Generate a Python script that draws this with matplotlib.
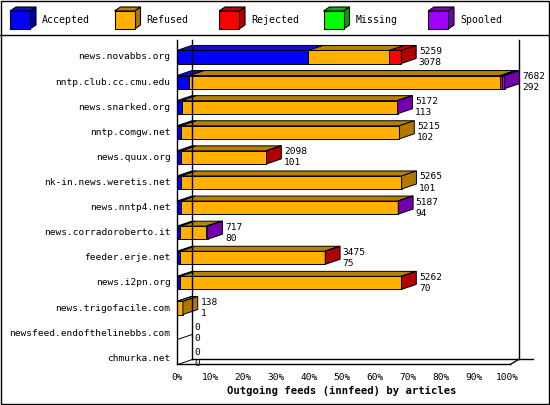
import matplotlib.pyplot as plt
from matplotlib.patches import Polygon, Rectangle

servers = ["news.novabbs.org", "nntp.club.cc.cmu.edu", "news.snarked.org", "nntp.comgw.net",
           "news.quux.org", "nk-in.news.weretis.net", "news.nntp4.net", "news.corradoroberto.it",
           "feeder.erje.net", "news.i2pn.org", "news.trigofacile.com",
           "newsfeed.endofthelinebbs.com", "chmurka.net"]
accepted = [3078, 292, 113, 102, 101, 101, 94, 80, 75, 70, 1, 0, 0]
refused = [1901, 7290, 5049, 5113, 1987, 5164, 5083, 607, 3390, 5182, 137, 0, 0]
rejected = [280, 30, 0, 0, 10, 0, 0, 0, 10, 10, 0, 0, 0]
missing = [0] * 13
spooled = [0, 70, 10, 0, 0, 0, 10, 30, 0, 0, 0, 0, 0]
totals = [5259, 7682, 5172, 5215, 2098, 5265, 5187, 717, 3475, 5262, 138, 0, 0]

names = ["Accepted", "Refused", "Rejected", "Missing", "Spooled"]
front = ["#0000ff", "#ffb000", "#ff0000", "#00ff00", "#a000ff"]
dark = ["#0000a8", "#b07800", "#b00000", "#00a000", "#7000b0"]
topc = ["#1010c8", "#b88000", "#c00000", "#00b000", "#8000c0"]

fig = plt.figure(figsize=(5.5, 4.05), dpi=100)
plt.rcParams['font.family'] = 'DejaVu Sans Mono'
fs = 6.8

# outer frame and legend separator
fig.add_artist(Rectangle((0.002, 0.002), 0.996, 0.996, transform=fig.transFigure,
                         fill=False, lw=1, ec="black"))
fig.add_artist(plt.Line2D([0, 1], [1 - 35 / 405] * 2, transform=fig.transFigure, color="black", lw=1))

# legend
for k, n in enumerate(names):
    x0 = (10 + k * 104.5) / 550
    w, h, d, e = 20 / 550, 18 / 405, 6 / 550, 4 / 405
    y0 = 1 - 29 / 405
    fig.add_artist(Polygon([(x0 + w, y0), (x0 + w + d, y0 + e), (x0 + w + d, y0 + h + e), (x0 + w, y0 + h)],
                           transform=fig.transFigure, fc=dark[k], ec="black", lw=0.8))
    fig.add_artist(Polygon([(x0, y0 + h), (x0 + d, y0 + h + e), (x0 + w + d, y0 + h + e), (x0 + w, y0 + h)],
                           transform=fig.transFigure, fc=topc[k], ec="black", lw=0.8))
    fig.add_artist(Rectangle((x0, y0), w, h, transform=fig.transFigure, fc=front[k], ec="black", lw=0.8))
    fig.text(x0 + 32 / 550, y0 + h / 2, n, fontsize=fs + 0.3, va="center")

ax = fig.add_axes([177 / 550, 35 / 405, 330 / 550, 330 / 405])
ax.set_xlim(0, 100)
ax.set_ylim(12.47, -0.677)
ax.axis("off")

dx, dy, bh = 4.5, 0.2, 0.52
n = len(servers)
scale = 99.3 / max(totals)

# axes lines: front left, back left, back right, floor
ax.plot([0, 0], [-0.677, 12.25], color="black", lw=1, clip_on=False)
ax.plot([dx, dx], [-0.677, 12.05], color="black", lw=1, clip_on=False)
ax.plot([103.5, 103.5], [-0.677, 12.05], color="black", lw=1, clip_on=False)
ax.plot([dx, 108], [12.05, 12.05], color="black", lw=1, clip_on=False)
ax.plot([0, 101], [12.25, 12.25], color="black", lw=1, clip_on=False)
ax.plot([101, 103.5], [12.25, 12.05], color="black", lw=1, clip_on=False)
for t in range(0, 101, 10):
    ax.text(t, 12.75, f"{t}%", fontsize=fs, ha="center", va="center", clip_on=False)
ax.text(50, 13.3, "Outgoing feeds (innfeed) by articles", fontsize=fs + 0.8, weight="bold",
        ha="center", va="center", clip_on=False)

for i in range(n):
    segs = [accepted[i], refused[i], rejected[i], missing[i], spooled[i]]
    y1, y2 = i - bh / 2, i + bh / 2
    ax.text(-2, i, servers[i], fontsize=fs, ha="right", va="center")
    x = 0
    last = None
    for k, v in enumerate(segs):
        if v <= 0:
            continue
        w = v * scale
        ax.add_patch(Polygon([(x, y1), (x + dx, y1 - dy), (x + w + dx, y1 - dy), (x + w, y1)],
                             fc=topc[k], ec="black", lw=0.7, clip_on=False))
        ax.add_patch(Rectangle((x, y1), w, bh, fc=front[k], ec="black", lw=0.7, clip_on=False))
        x += w
        last = k
    if last is not None:
        ax.add_patch(Polygon([(x, y1), (x + dx, y1 - dy), (x + dx, y2 - dy), (x, y2)],
                             fc=dark[last], ec="black", lw=0.7, clip_on=False))
    else:
        ax.plot([0, dx], [y2, y2 - dy], color="black", lw=0.7)
    ax.text(x + dx + 0.8, i - 0.22, str(totals[i]), fontsize=fs, va="center", clip_on=False)
    ax.text(x + dx + 0.8, i + 0.22, str(accepted[i]), fontsize=fs, va="center", clip_on=False)

fig.savefig("out.png", dpi=100)
